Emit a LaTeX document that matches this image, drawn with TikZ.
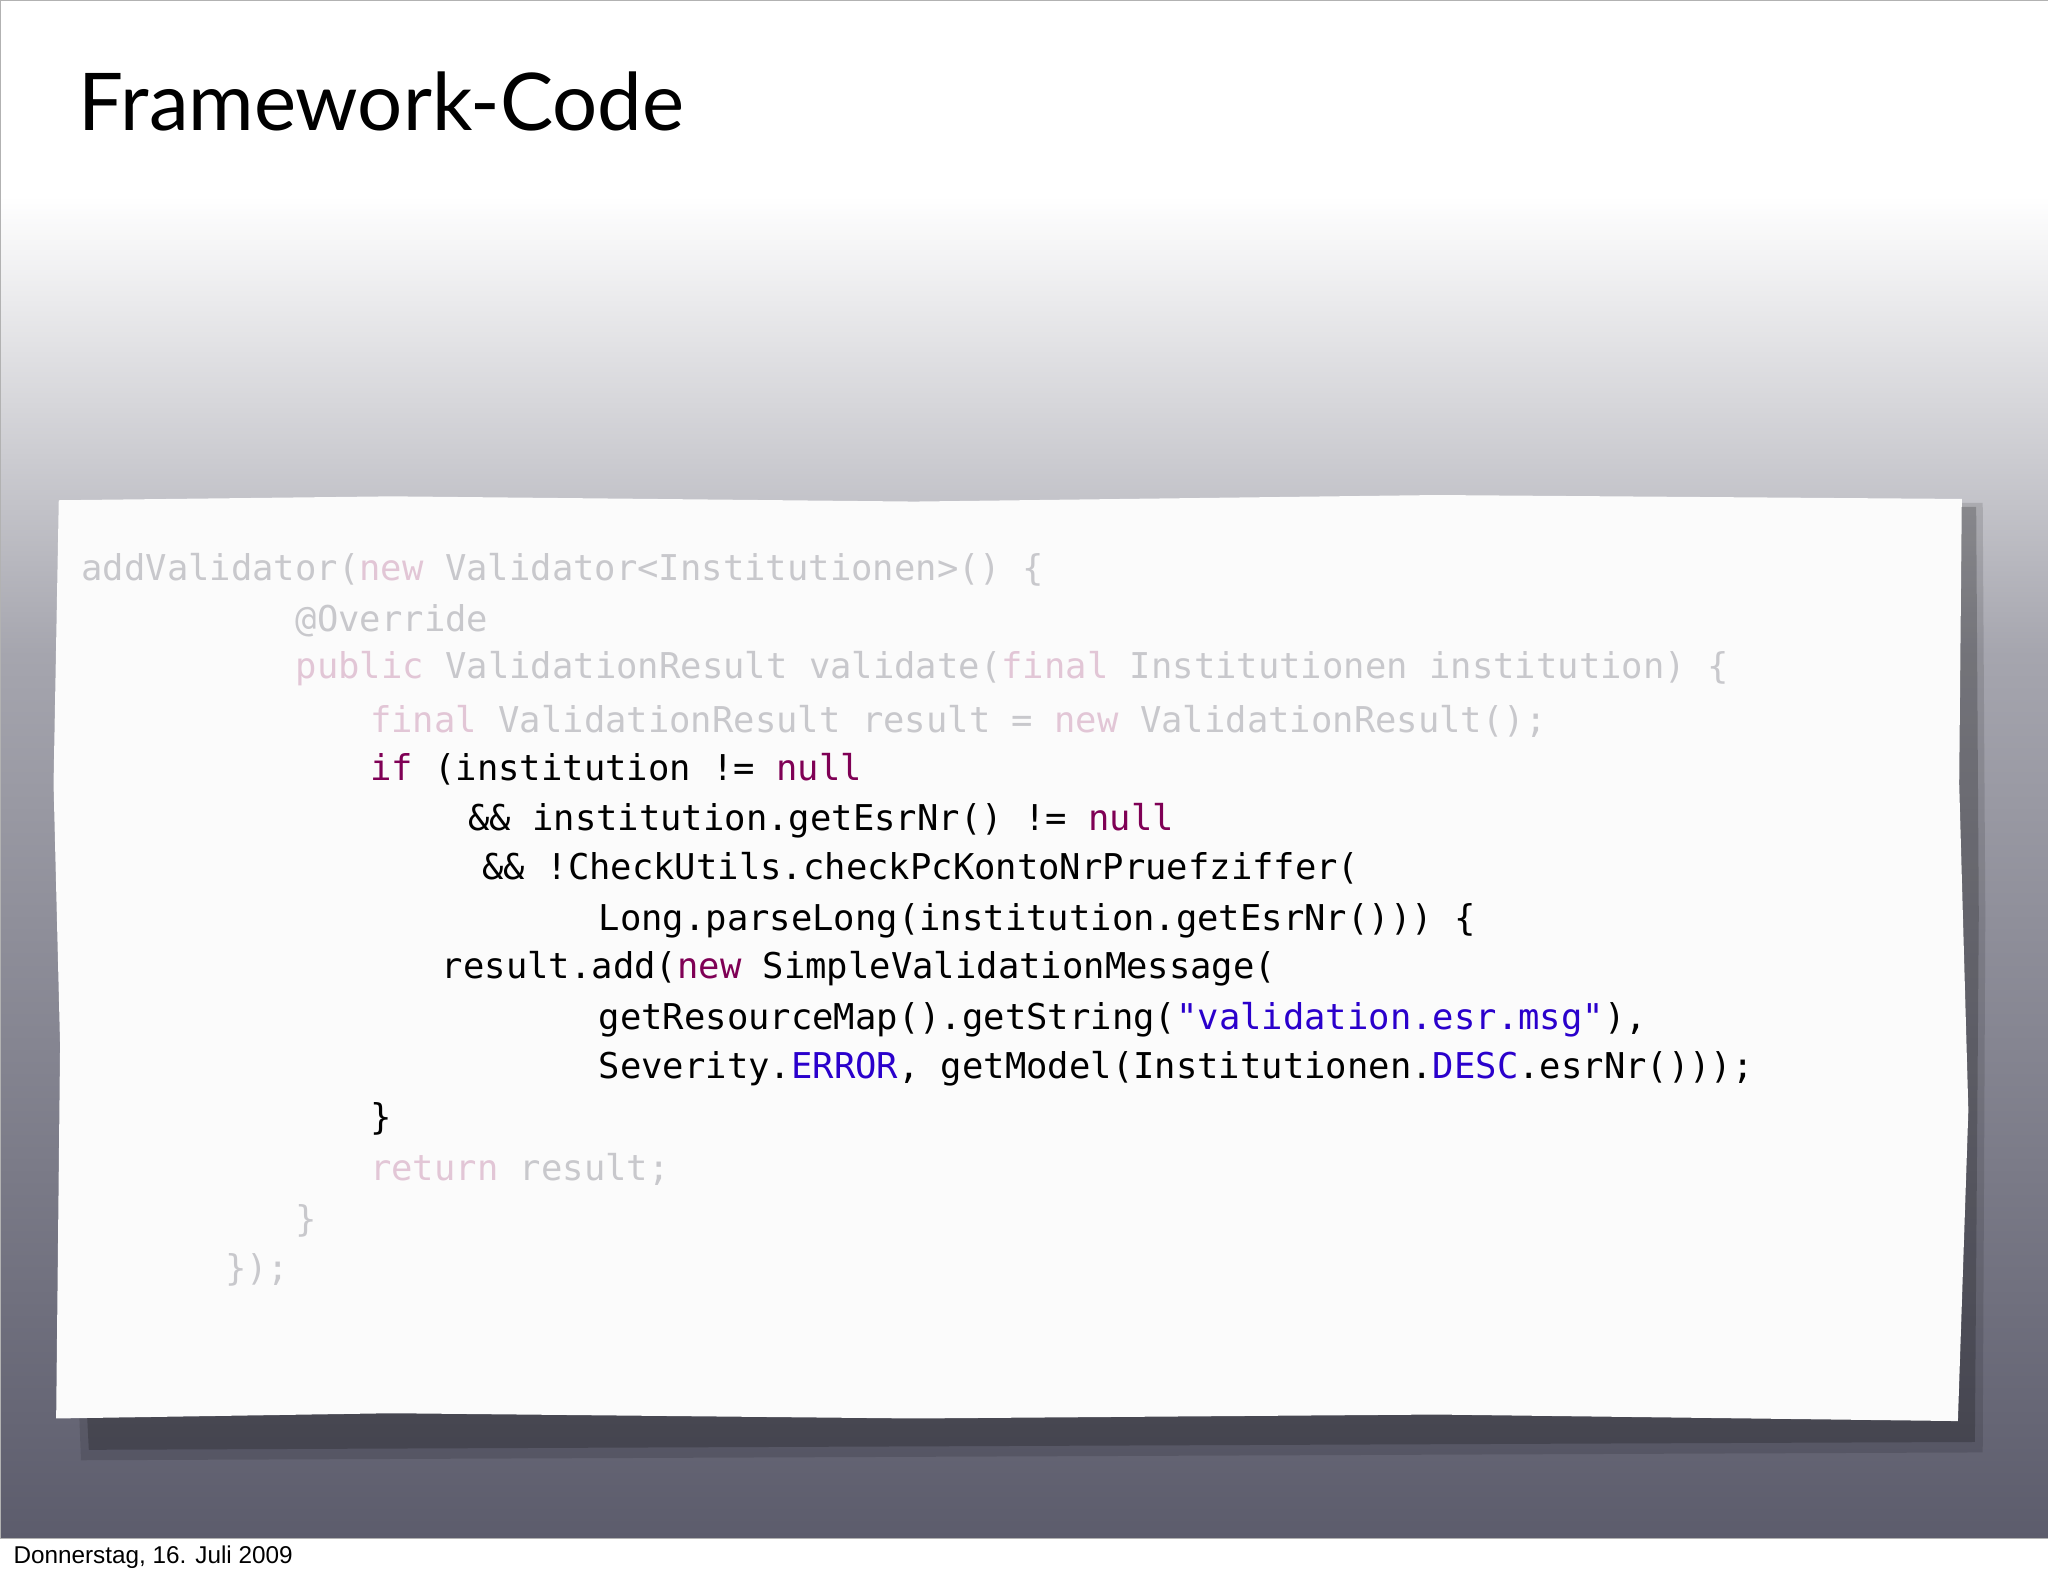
\documentclass[tikz,border=0pt]{standalone}
\usepackage{fontspec}
\setmainfont{Lato}
\setmonofont{DejaVu Sans Mono}
\newfontfamily\footfont{Liberation Sans}
\definecolor{kw}{HTML}{7F0055}
\definecolor{cst}{HTML}{2A00CC}
\definecolor{fd}{HTML}{C8C8CC}
\definecolor{fdk}{HTML}{E2C6D6}
\definecolor{bgbot}{HTML}{5C5C6C}
\newcommand{\K}[1]{\textcolor{kw}{#1}}
\newcommand{\C}[1]{\textcolor{cst}{#1}}
\newcommand{\FK}[1]{\textcolor{fdk}{#1}}
\tikzset{code/.style={anchor=west,inner sep=0pt,font=\ttfamily\fontsize{13.6}{16}\selectfont,text=black},
faded/.style={code,text=fd}}
\begin{document}
\begin{tikzpicture}[x=0.5pt,y=-0.5pt]
\useasboundingbox (0,0) rectangle (1568,1206);
\fill[white] (0,0) rectangle (1568,150);
\shade[top color=white,bottom color=white!45!bgbot] (0,150) rectangle (1568,500);
\shade[top color=white!45!bgbot,bottom color=bgbot] (0,500) rectangle (1568,1178);
\fill[white] (0,1178) rectangle (1568,1206);
\draw[gray!60] (0,0) rectangle (1568,1178);
\node[anchor=base west,inner sep=0pt,font=\fontsize{30.5}{36}\selectfont] (title) at (60,100) {Framework-Code};
\node[anchor=base west,inner sep=0pt,font=\footfont\fontsize{9.3}{11}\selectfont] (date) at (10,1197) {Donnerstag, 16. Juli 2009};
% paper shadow
\fill[black,opacity=0.12] (55,392) -- (1518,385) -- (1520,700) -- (1518,1112) -- (62,1118) -- (48,750) -- cycle;
\fill[black,opacity=0.2] (58,392) -- (1513,388) -- (1515,700) -- (1512,1104) -- (68,1110) -- (50,750) -- cycle;
\fill[white!97!gray] (45,383) -- (300,380) -- (700,384) -- (1100,379) -- (1502,382) -- (1500,600) -- (1507,850) -- (1499,1088) -- (1100,1083) -- (700,1086) -- (300,1082) -- (43,1086) -- (46,800) -- (41,600) -- cycle;
\node[faded] (l1) at (62,436) {addValidator(\FK{new} Validator<Institutionen>() \{};
\node[faded] (l2) at (226,475) {@Override};
\node[faded] (l3) at (226,512) {\FK{public} ValidationResult validate(\FK{final} Institutionen institution) \{};
\node[faded] (l4) at (283,552) {\FK{final} ValidationResult result = \FK{new} ValidationResult();};
\node[code] (l5) at (283,589) {\K{if} (institution != \K{null}};
\node[code] (l6) at (358,628) {\&\& institution.getEsrNr() != \K{null}};
\node[code] (l7) at (369,665) {\&\& !CheckUtils.checkPcKontoNrPruefziffer(};
\node[code] (l8) at (458,705) {Long.parseLong(institution.getEsrNr())) \{};
\node[code] (l9) at (338,742) {result.add(\K{new} SimpleValidationMessage(};
\node[code] (l10) at (458,781) {getResourceMap().getString(\C{"validation.esr.msg"}),};
\node[code] (l11) at (458,818) {Severity.\C{ERROR}, getModel(Institutionen.\C{DESC}.esrNr()));};
\node[code] (l12) at (283,857) {\}};
\node[faded] (l13) at (283,895) {\FK{return} result;};
\node[faded] (l14) at (226,935) {\}};
\node[faded] (l15) at (172,972) {\});};
\end{tikzpicture}
\end{document}
